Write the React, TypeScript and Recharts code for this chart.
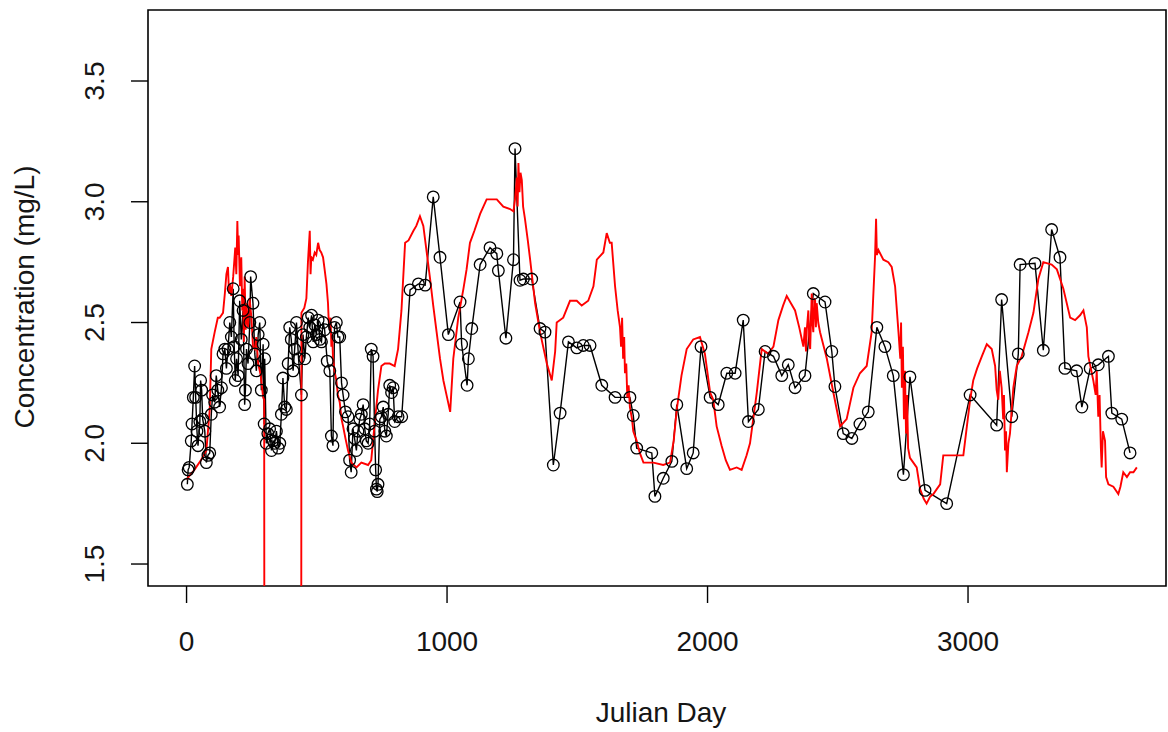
import React from 'react'
import { ComposedChart, Line, XAxis, YAxis, ReferenceArea, Label } from 'recharts'

// ─── Observed concentrations (black circles) ────────────────────────────────
const OBS_DAY = [
  3, 6, 10, 18, 21, 26, 31, 35, 40, 44, 51, 54, 58, 62, 70, 76, 82, 89, 95, 100,
  108, 114, 120, 127, 134, 140, 147, 153, 159, 166, 172, 179, 183, 187, 192, 198, 204, 210, 217, 223,
  226, 230, 236, 243, 246, 255, 262, 268, 275, 281, 287, 294, 298, 300, 306, 312, 319, 326, 332, 338,
  345, 352, 358, 364, 370, 377, 383, 390, 396, 402, 409, 415, 422, 430, 441, 447, 454, 460, 467, 473,
  480, 486, 492, 498, 505, 512, 518, 524, 530, 540, 550, 556, 562, 568, 575, 581, 588, 595, 601, 610,
  620, 626, 632, 639, 645, 652, 658, 665, 671, 678, 684, 690, 697, 703, 709, 716, 722, 726, 729, 732,
  735, 742, 748, 755, 761, 767, 774, 780, 787, 793, 799, 812, 826, 858, 890, 916, 947, 973, 1005, 1050,
  1056, 1077, 1082, 1095, 1127, 1165, 1191, 1197, 1226, 1255, 1261, 1280, 1293, 1325, 1357, 1376, 1408, 1434, 1466, 1498,
  1523, 1549, 1594, 1645, 1702, 1715, 1728, 1786, 1798, 1830, 1863, 1882, 1920, 1945, 1975, 2010, 2041, 2074, 2106, 2137,
  2157, 2195, 2221, 2253, 2285, 2310, 2336, 2374, 2406, 2451, 2477, 2489, 2521, 2554, 2585, 2617, 2650, 2681, 2713, 2752,
  2777, 2835, 2918, 3008, 3110, 3129, 3168, 3193, 3200, 3257, 3289, 3321, 3353, 3372, 3417, 3437, 3469, 3500, 3539, 3552,
  3590, 3622,
]
const OBS_CONC = [
  1.83, 1.89, 1.90, 2.01, 2.08, 2.19, 2.32, 2.19, 2.05, 1.99, 2.09, 2.26, 2.22, 2.10, 2.05, 1.92, 1.95, 1.96, 2.12, 2.20,
  2.17, 2.28, 2.22, 2.15, 2.23, 2.37, 2.39, 2.31, 2.39, 2.50, 2.44, 2.64, 2.40, 2.26, 2.35, 2.28, 2.59, 2.43, 2.55, 2.16,
  2.22, 2.39, 2.33, 2.50, 2.69, 2.58, 2.37, 2.30, 2.45, 2.50, 2.22, 2.41, 2.08, 2.35, 2.00, 2.04, 2.06, 1.97, 2.01, 2.00,
  2.05, 1.98, 2.00, 2.12, 2.27, 2.15, 2.14, 2.33, 2.48, 2.43, 2.30, 2.39, 2.50, 2.35, 2.20, 2.45, 2.35, 2.44, 2.52, 2.48,
  2.53, 2.42, 2.49, 2.45, 2.51, 2.43, 2.42, 2.50, 2.47, 2.34, 2.30, 2.03, 1.99, 2.48, 2.50, 2.44, 2.44, 2.25, 2.20, 2.13,
  2.11, 1.93, 1.88, 2.06, 2.02, 1.97, 2.05, 2.10, 2.12, 2.16, 2.06, 2.01, 2.00, 2.08, 2.39, 2.36, 2.05, 1.89, 1.81, 1.80,
  1.83, 2.10, 2.11, 2.15, 2.05, 2.03, 2.12, 2.24, 2.21, 2.23, 2.09, 2.11, 2.11, 2.635, 2.66, 2.655, 3.02, 2.77, 2.45, 2.585,
  2.41, 2.24, 2.35, 2.475, 2.74, 2.81, 2.785, 2.715, 2.435, 2.76, 3.22, 2.675, 2.68, 2.68, 2.475, 2.46, 1.91, 2.125, 2.42, 2.395,
  2.405, 2.405, 2.24, 2.19, 2.19, 2.115, 1.98, 1.96, 1.78, 1.855, 1.925, 2.16, 1.895, 1.96, 2.40, 2.19, 2.16, 2.29, 2.29, 2.51,
  2.09, 2.14, 2.38, 2.36, 2.28, 2.325, 2.23, 2.28, 2.62, 2.585, 2.38, 2.235, 2.04, 2.02, 2.08, 2.13, 2.48, 2.40, 2.28, 1.87,
  2.275, 1.805, 1.75, 2.20, 2.075, 2.595, 2.11, 2.37, 2.74, 2.745, 2.385, 2.885, 2.77, 2.31, 2.30, 2.15, 2.31, 2.325, 2.36, 2.125,
  2.10, 1.96,
]

// ─── Modelled concentrations (red line) ─────────────────────────────────────
const MODEL_DAY = [
  0, 3, 30, 55, 76, 89, 95, 108, 120, 127, 140, 147, 153, 159, 163, 166, 172, 179, 187, 191,
  195, 198, 200, 205, 210, 214, 217, 220, 223, 227, 230, 236, 242, 249, 255, 262, 268, 275, 285, 294,
  298, 299, 440, 441, 452, 460, 466, 473, 476, 479, 485, 492, 498, 505, 511, 517, 524, 530, 537, 543,
  546, 550, 553, 556, 559, 562, 568, 575, 581, 588, 595, 601, 610, 620, 633, 652, 671, 697, 709, 722,
  735, 748, 761, 780, 799, 812, 825, 839, 852, 871, 882, 896, 909, 922, 935, 947, 960, 973, 986, 1000,
  1012, 1024, 1043, 1063, 1075, 1088, 1105, 1127, 1152, 1191, 1216, 1242, 1255, 1261, 1268, 1271, 1274, 1278, 1282, 1287,
  1292, 1299, 1310, 1319, 1338, 1357, 1383, 1402, 1415, 1421, 1446, 1472, 1498, 1517, 1542, 1562, 1575, 1600, 1613, 1625,
  1632, 1645, 1655, 1664, 1668, 1672, 1676, 1680, 1683, 1688, 1692, 1697, 1702, 1710, 1715, 1728, 1740, 1754, 1792, 1830,
  1856, 1870, 1882, 1900, 1920, 1945, 1971, 1990, 2010, 2022, 2035, 2054, 2070, 2086, 2112, 2131, 2150, 2163, 2189, 2208,
  2233, 2253, 2272, 2290, 2304, 2320, 2336, 2352, 2368, 2374, 2378, 2381, 2387, 2391, 2394, 2400, 2403, 2406, 2410, 2413,
  2416, 2419, 2425, 2432, 2458, 2483, 2509, 2534, 2560, 2585, 2611, 2630, 2643, 2647, 2650, 2656, 2675, 2694, 2707, 2720,
  2733, 2740, 2743, 2746, 2750, 2754, 2758, 2762, 2766, 2770, 2777, 2790, 2803, 2816, 2830, 2841, 2855, 2867, 2880, 2893,
  2905, 2982, 3008, 3020, 3035, 3053, 3072, 3091, 3104, 3110, 3116, 3122, 3129, 3135, 3138, 3142, 3146, 3149, 3155, 3161,
  3174, 3187, 3206, 3232, 3251, 3270, 3289, 3321, 3341, 3366, 3392, 3411, 3430, 3443, 3456, 3462, 3481, 3490, 3494, 3500,
  3505, 3510, 3513, 3518, 3526, 3530, 3539, 3558, 3577, 3585, 3596, 3610, 3622, 3635, 3648,
]
const MODEL_CONC = [
  1.85, 1.855, 1.89, 1.93, 1.97, 2.14, 2.39, 2.46, 2.52, 2.52, 2.54, 2.62, 2.70, 2.73, 2.62, 2.66, 2.61, 2.69, 2.81, 2.70,
  2.92, 2.78, 2.86, 2.65, 2.77, 2.55, 2.64, 2.42, 2.69, 2.47, 2.58, 2.48, 2.60, 2.52, 2.40, 2.39, 2.44, 2.33, 2.28, 2.19,
  2.18, 0.5, 0.5, 2.54, 2.56, 2.60, 2.75, 2.88, 2.70, 2.77, 2.76, 2.79, 2.78, 2.83, 2.80, 2.79, 2.77, 2.72, 2.66, 2.58,
  2.50, 2.47, 2.52, 2.40, 2.45, 2.36, 2.30, 2.26, 2.20, 2.17, 2.10, 2.07, 2.02, 1.97, 1.92, 1.90, 1.92, 1.91, 1.93, 2.08,
  2.22, 2.32, 2.33, 2.33, 2.32, 2.39, 2.55, 2.83, 2.84, 2.88, 2.90, 2.94, 2.90, 2.79, 2.68, 2.57, 2.46, 2.35, 2.26, 2.19,
  2.13, 2.35, 2.52, 2.64, 2.72, 2.83, 2.88, 2.95, 3.01, 3.01, 2.98, 2.97, 2.96, 3.01, 3.10, 2.98, 3.16, 3.04, 3.12, 3.09,
  2.98, 2.93, 2.84, 2.76, 2.58, 2.46, 2.33, 2.26, 2.38, 2.50, 2.52, 2.59, 2.59, 2.57, 2.59, 2.65, 2.76, 2.79, 2.87, 2.83,
  2.83, 2.65, 2.55, 2.48, 2.40, 2.52, 2.35, 2.44, 2.29, 2.33, 2.19, 2.24, 2.15, 2.10, 2.05, 2.01, 1.96, 1.92, 1.92, 1.91,
  1.92, 2.01, 2.14, 2.28, 2.39, 2.43, 2.44, 2.37, 2.21, 2.18, 2.07, 1.99, 1.93, 1.89, 1.90, 1.89, 1.95, 2.00, 2.21, 2.39,
  2.37, 2.40, 2.51, 2.57, 2.61, 2.58, 2.55, 2.48, 2.40, 2.48, 2.38, 2.47, 2.55, 2.42, 2.39, 2.62, 2.50, 2.46, 2.60, 2.59,
  2.48, 2.58, 2.50, 2.46, 2.35, 2.21, 2.07, 2.10, 2.23, 2.29, 2.32, 2.46, 2.77, 2.93, 2.78, 2.80, 2.76, 2.75, 2.73, 2.65,
  2.46, 2.35, 2.50, 2.23, 2.40, 2.10, 2.30, 2.04, 2.20, 1.98, 1.94, 1.92, 1.90, 1.81, 1.77, 1.75, 1.78, 1.79, 1.81, 1.83,
  1.95, 1.95, 2.18, 2.26, 2.31, 2.36, 2.41, 2.39, 2.32, 2.22, 2.18, 2.30, 2.23, 2.10, 2.20, 1.97, 2.05, 1.88, 2.00, 2.04,
  2.23, 2.32, 2.36, 2.46, 2.54, 2.68, 2.75, 2.74, 2.72, 2.64, 2.52, 2.51, 2.53, 2.55, 2.48, 2.36, 2.26, 2.20, 2.30, 2.11,
  2.20, 1.98, 1.90, 2.05, 2.01, 1.86, 1.83, 1.82, 1.79, 1.82, 1.88, 1.86, 1.88, 1.88, 1.90,
]

const X_TICKS = [0, 1000, 2000, 3000]
const Y_TICKS = [1.5, 2.0, 2.5, 3.0, 3.5]
const X_DOMAIN: [number, number] = [-148, 3760]
const Y_DOMAIN: [number, number] = [1.409, 3.794]

const observed = OBS_DAY.map((day, i) => ({ day, conc: OBS_CONC[i] }))
const modelled = MODEL_DAY.map((day, i) => ({ day, conc: MODEL_CONC[i] }))

const FONT = '"Liberation Sans", Arial, sans-serif'
const INK = '#151515'

function XTick({ x, payload }: any) {
  return (
    <text x={x} y={651} textAnchor="middle" fontSize={28} fontFamily={FONT} fill={INK}>
      {payload.value}
    </text>
  )
}

function YTick({ y, payload }: any) {
  return (
    <text
      x={104}
      y={y}
      transform={`rotate(-90 104 ${y})`}
      textAnchor="middle"
      fontSize={28}
      fontFamily={FONT}
      fill={INK}
    >
      {Number(payload.value).toFixed(1)}
    </text>
  )
}

export default function App() {
  return (
    <div style={{ position: 'absolute', left: 0, top: 0, width: 1168, height: 732, background: '#fff' }}>
      <ComposedChart width={1168} height={732} margin={{ top: 10, right: 2, bottom: 0, left: 0 }}>
        <XAxis
          type="number"
          dataKey="day"
          domain={X_DOMAIN}
          ticks={X_TICKS}
          allowDataOverflow
          height={146}
          axisLine={false}
          tickSize={17}
          tickLine={{ stroke: '#000', strokeWidth: 1.4 }}
          tick={<XTick />}
        >
          <Label
            content={() => (
              <text x={661} y={722} textAnchor="middle" fontSize={28} fontFamily={FONT} fill={INK}>
                Julian Day
              </text>
            )}
          />
        </XAxis>
        <YAxis
          type="number"
          domain={Y_DOMAIN}
          ticks={Y_TICKS}
          allowDataOverflow
          width={148}
          axisLine={false}
          tickSize={17}
          tickLine={{ stroke: '#000', strokeWidth: 1.4 }}
          tick={<YTick />}
        >
          <Label
            content={() => (
              <text
                x={34}
                y={297}
                transform="rotate(-90 34 297)"
                textAnchor="middle"
                fontSize={28}
                fontFamily={FONT}
                fill={INK}
              >
                Concentration (mg/L)
              </text>
            )}
          />
        </YAxis>
        <Line
          data={observed}
          dataKey="conc"
          stroke="#000"
          strokeWidth={1.4}
          dot={{ r: 5.8, stroke: '#000', strokeWidth: 1.3, fill: 'none' }}
          activeDot={false}
          isAnimationActive={false}
        />
        <Line
          data={modelled}
          dataKey="conc"
          stroke="#ff0000"
          strokeWidth={1.9}
          dot={false}
          activeDot={false}
          isAnimationActive={false}
        />
        <ReferenceArea
          x1={X_DOMAIN[0]}
          x2={X_DOMAIN[1]}
          y1={Y_DOMAIN[0]}
          y2={Y_DOMAIN[1]}
          fill="none"
          stroke="#000"
          strokeWidth={1.6}
          ifOverflow="visible"
        />
      </ComposedChart>
    </div>
  )
}
